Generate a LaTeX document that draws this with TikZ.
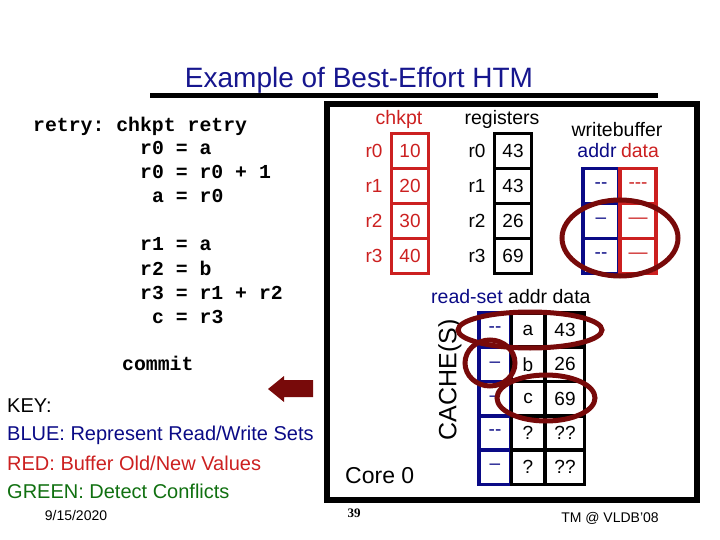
\documentclass[tikz,border=0pt]{standalone}
\usepackage{fontspec}
\setmainfont{Liberation Sans}
\setmonofont{Liberation Mono}
\newfontfamily\pageserif{Liberation Serif}
\usepackage{tikz}
\usetikzlibrary{positioning}
\definecolor{titleBlue}{HTML}{16168E}
\definecolor{setBlue}{HTML}{0A0A86}
\definecolor{bufRed}{HTML}{CC2020}
\definecolor{keyGreen}{HTML}{107010}
\definecolor{ringRed}{HTML}{780A0A}
\newcommand{\fsz}[1]{\fontsize{#1}{#1}\selectfont}

\begin{document}
\begin{tikzpicture}[x=1pt,y=-1pt,
  codeline/.style={anchor=base west,inner sep=0pt,font=\ttfamily\bfseries\fsz{19.8}},
  txt/.style={anchor=base,inner sep=0pt,font=\fsz{19.5}},
  cell/.style={draw,line width=3.2pt,minimum height=35,inner sep=0pt,font=\fsz{19}},
  ring/.style={draw=ringRed,line width=5pt}]
\useasboundingbox (0,0) rectangle (720,540);
% title
\node[anchor=base,inner sep=0pt,text=titleBlue,font=\fsz{28}] (title) at (359,88) {Example of Best-Effort HTM};
\draw[line width=5pt] (150,96) -- (658,96);
% code
\node[codeline] (c1) at (33,132) {retry: chkpt retry};
\node[codeline] (c2) at (140,155) {r0 = a};
\node[codeline] (c3) at (140,179) {r0 = r0 + 1};
\node[codeline] (c4) at (152,203) {a = r0};
\node[codeline] (c5) at (140,251) {r1 = a};
\node[codeline] (c6) at (140,275) {r2 = b};
\node[codeline] (c7) at (140,299) {r3 = r1 + r2};
\node[codeline] (c8) at (152,323) {c = r3};
\node[codeline] (commit) at (122,370) {commit};
% key
\node[txt,anchor=base west,font=\fsz{20}] (key) at (7,412) {KEY:};
\node[txt,anchor=base west,font=\fsz{20},text=setBlue] (keyblue) at (7,440) {BLUE: Represent Read/Write Sets};
\node[txt,anchor=base west,font=\fsz{20},text=bufRed] (keyred) at (7,470) {RED: Buffer Old/New Values};
\node[txt,anchor=base west,font=\fsz{20},text=keyGreen] (keygreen) at (7,498) {GREEN: Detect Conflicts};
\fill[ringRed] (268,389) -- (284,376) -- (284,380) -- (313,380) -- (313,397) -- (284,397) -- (284,402) -- cycle;
% core box
\draw[line width=6pt] (327,104) rectangle (697,500);
\node[txt,anchor=base west,font=\fsz{23}] (core) at (345,483) {Core 0};
% checkpoint
\node[txt,text=bufRed] (chkpt) at (399,125) {chkpt};
\foreach \v [count=\i from 0] in {10,20,30,40} {
  \node[cell,draw=bufRed,text=bufRed,minimum width=37] (ck\i) at (410,{151+35*\i}) {\v};
  \node[inner sep=0pt,text=bufRed,font=\fsz{19}] (ckr\i) at (374,{151+35*\i}) {r\i};
}
% registers
\node[txt] (regs) at (502,125) {registers};
\foreach \v [count=\i from 0] in {43,43,26,69} {
  \node[cell,minimum width=37] (rg\i) at (513,{151+35*\i}) {\v};
  \node[inner sep=0pt,font=\fsz{19}] (rgr\i) at (477,{151+35*\i}) {r\i};
}
% write buffer
\node[txt] (wbuf) at (617,137) {writebuffer};
\node[txt,text=setBlue] (wbaddr) at (597,158) {addr};
\node[txt,text=bufRed] (wbdata) at (640,158) {data};
\foreach \a/\d [count=\i from 0] in {-{}-/-{}-{}-, --/---, -{}-/---} {
  \node[cell,draw=setBlue,text=setBlue,minimum width=36] (wa\i) at (601,{186+35*\i}) {\a};
  \node[cell,draw=bufRed,text=bufRed,minimum width=36] (wd\i) at (638,{186+35*\i}) {\d};
}
\draw[ring] (620,238) ellipse [x radius=58, y radius=38];
% read set
\node[txt,anchor=base west] (rset) at (431,303) {\textcolor{setBlue}{read-set} addr data};
\node[inner sep=0pt,rotate=90,font=\fsz{25}] (cache) at (450,380) {CACHE(S)};
\foreach \r/\a/\d [count=\i from 0] in {-{}-/a/43, --/b/26, --/c/69, -{}-/?/??, --/?/??} {
  \node[cell,draw=setBlue,text=setBlue,minimum width=32,minimum height=34] (cr\i) at (495,{330+34.3*\i}) {\r};
  \node[cell,minimum width=33,minimum height=34] (ca\i) at (528,{330+34.3*\i}) {\a};
  \node[cell,minimum width=39,minimum height=34] (cd\i) at (565,{330+34.3*\i}) {\d};
}
\draw[ring] (530,330) ellipse [x radius=72, y radius=18];
\draw[ring] (490,363) ellipse [x radius=25, y radius=23];
\draw[ring] (546,398) ellipse [x radius=49, y radius=23];
% footer
\node[txt,font=\fsz{14}] (date) at (76,520) {9/15/2020};
\node[txt,font=\pageserif\bfseries\fsz{13}] (page) at (354,517) {39};
\node[txt,font=\fsz{14}] (conf) at (610,522) {TM @ VLDB'08};
\end{tikzpicture}
\end{document}
